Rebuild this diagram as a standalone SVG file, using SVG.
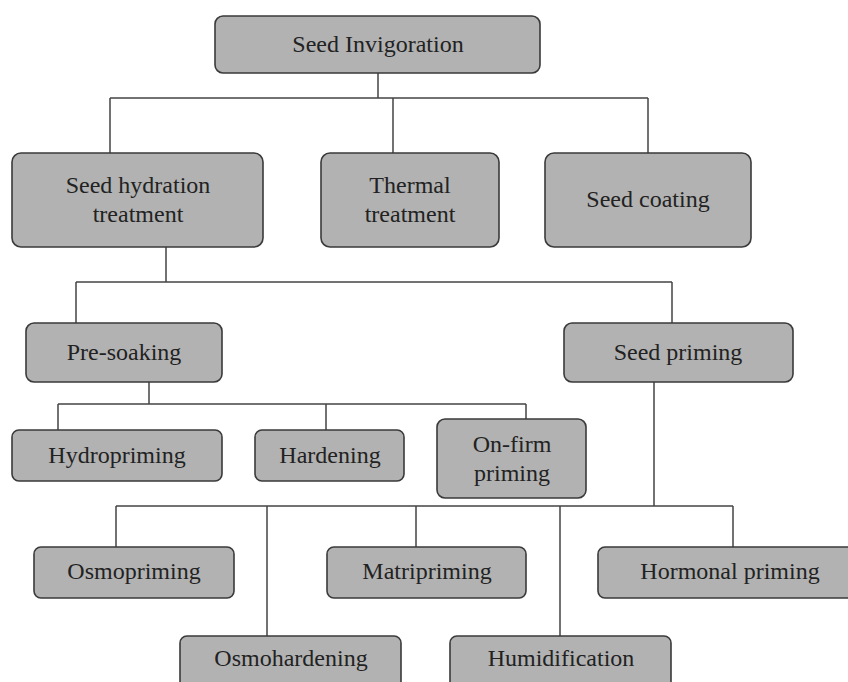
<svg xmlns="http://www.w3.org/2000/svg" width="848" height="682" viewBox="0 0 848 682">
<style>
.box{fill:#b2b2b2;stroke:#3a3a3a;stroke-width:1.6}
.lbl{font-family:"Liberation Serif","Times New Roman",serif;font-size:24px;fill:#222;text-anchor:middle}
.conn{fill:none;stroke:#444;stroke-width:1.5}
</style>
<rect width="848" height="682" fill="#fff"/>
<g id="connectors" class="conn">
<path d="M378 73V98M110 98H648M110 98V153M393 98V153M648 98V153"/>
<path d="M166 247V282M76 282H672M76 282V323M672 282V323"/>
<path d="M149 382V404M58 404H526M58 404V430M326 404V430M526 404V419"/>
<path d="M654 382V506M116 506H733M116 506V547M267 506V636M416 506V547M560 506V636M733 506V547"/>
</g>
<g id="seed-invigoration"><rect class="box" x="215" y="16" width="325" height="57" rx="8"/><text class="lbl" x="378" y="52">Seed Invigoration</text></g>
<g id="seed-hydration"><rect class="box" x="12" y="153" width="251" height="94" rx="9"/><text class="lbl" x="138" y="193">Seed hydration</text><text class="lbl" x="138" y="222">treatment</text></g>
<g id="thermal"><rect class="box" x="321" y="153" width="178" height="94" rx="9"/><text class="lbl" x="410" y="193">Thermal</text><text class="lbl" x="410" y="222">treatment</text></g>
<g id="seed-coating"><rect class="box" x="545" y="153" width="206" height="94" rx="9"/><text class="lbl" x="648" y="207">Seed coating</text></g>
<g id="pre-soaking"><rect class="box" x="26" y="323" width="196" height="59" rx="8"/><text class="lbl" x="124" y="360">Pre-soaking</text></g>
<g id="seed-priming"><rect class="box" x="564" y="323" width="229" height="59" rx="8"/><text class="lbl" x="678" y="360">Seed priming</text></g>
<g id="hydropriming"><rect class="box" x="12" y="430" width="210" height="51" rx="7"/><text class="lbl" x="117" y="463">Hydropriming</text></g>
<g id="hardening"><rect class="box" x="255" y="430" width="149" height="51" rx="7"/><text class="lbl" x="330" y="463">Hardening</text></g>
<g id="on-firm"><rect class="box" x="437" y="419" width="149" height="79" rx="8"/><text class="lbl" x="512" y="452">On-firm</text><text class="lbl" x="512" y="481">priming</text></g>
<g id="osmopriming"><rect class="box" x="34" y="547" width="200" height="51" rx="7"/><text class="lbl" x="134" y="579">Osmopriming</text></g>
<g id="matripriming"><rect class="box" x="327" y="547" width="199" height="51" rx="7"/><text class="lbl" x="427" y="579">Matripriming</text></g>
<g id="hormonal"><rect class="box" x="598" y="547" width="264" height="51" rx="7"/><text class="lbl" x="730" y="579">Hormonal priming</text></g>
<g id="osmohardening"><rect class="box" x="180" y="636" width="221" height="60" rx="7"/><text class="lbl" x="291" y="666">Osmohardening</text></g>
<g id="humidification"><rect class="box" x="450" y="636" width="221" height="60" rx="7"/><text class="lbl" x="561" y="666">Humidification</text></g>
</svg>
